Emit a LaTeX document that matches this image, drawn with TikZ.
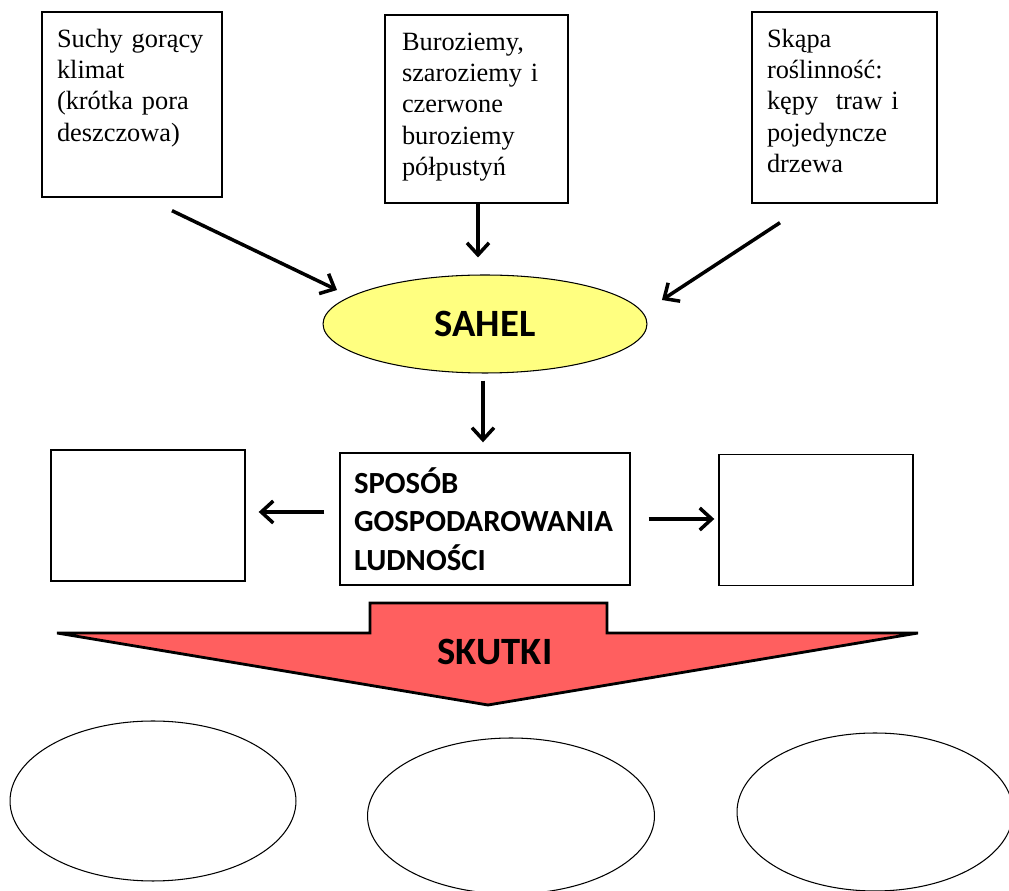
\documentclass[tikz,border=0pt]{standalone}
\usepackage{fontspec}
\setmainfont{Liberation Serif}
\newfontfamily\calibri{Carlito}
\usetikzlibrary{arrows.meta, shapes.geometric, calc}
\definecolor{piasek}{RGB}{255,255,128}
\definecolor{czerwien}{RGB}{255,95,95}
\tikzset{
  kafel/.style={draw, line width=0.8pt, align=left, inner xsep=0.34cm, inner ysep=0.3cm, text height=0.4cm,
                font=\fontsize{15}{17.9}\selectfont},
  pusty/.style={draw, line width=0.8pt, minimum width=3.88cm, minimum height=2.62cm},
  owal/.style={ellipse, draw, line width=0.6pt},
  napis/.style={font=\calibri\bfseries\fontsize{22}{26}\selectfont},
  strzalka/.style={line width=2pt, -{Straight Barb[length=0.24cm, width=0.44cm]}},
}

\begin{document}
\begin{tikzpicture}[x=0.02cm, y=-0.02cm]
        \useasboundingbox (0,0) rectangle (1009,891);

        % Nodes
        \node[kafel, inner xsep=0.3cm, text width=3.0cm, text depth=2.7cm] (klimat) at (132,104.5) {Suchy gorący\\klimat\\(krótka pora\\deszczowa)};
        \node[kafel, text width=2.98cm, text depth=2.76cm] (gleby) at (476.5,109) {Buroziemy,\\szaroziemy i\\czerwone\\buroziemy\\półpustyń};
        \node[kafel, inner xsep=0.3cm, text width=3.1cm, text depth=2.82cm] (roslinnosc) at (844.5,107.5) {Skąpa\\roślinność:\\kępy~ traw i\\pojedyncze\\drzewa};
        \node[owal, fill=piasek, minimum width=6.48cm, minimum height=1.96cm, napis] (sahel) at (485,324) {SAHEL};
        \node[draw, line width=0.8pt, align=left, inner xsep=0.28cm, text width=5.24cm, minimum height=2.64cm,
              font=\calibri\bfseries\fontsize{17.5}{22}\selectfont] (sposob) at (485,519) {SPOSÓB\\GOSPODAROWANIA\\LUDNOŚCI};
        \node[pusty] (lewy) at (148,515.5) {};
        \node[pusty] (prawy) at (816,520) {};

        % Skutki
        \draw[line width=1.6pt, fill=czerwien, line join=miter] (370,603) -- (607,603) -- (607,633) -- (918,633) -- (488,705) -- (57,633) -- (370,633) -- cycle;
        \node[napis] (skutki) at (495,652) {SKUTKI};
        \node[owal, minimum width=5.72cm, minimum height=3.2cm] (skutek1) at (153,801) {};
        \node[owal, minimum width=5.74cm, minimum height=3.12cm] (skutek2) at (511,816) {};
        \node[owal, minimum width=5.52cm, minimum height=3.16cm] (skutek3) at (875,812) {};

        % Directed edges
        \draw[strzalka] ([xshift=0.8cm, yshift=-0.26cm]klimat.south) -- ([xshift=-2.96cm, yshift=0.68cm]sahel.center);
        \draw[strzalka, shorten >=0.34cm] ([xshift=0.03cm]gleby.south) -- ([xshift=0.03cm]gleby.south |- sahel.north);
        \draw[strzalka] ([xshift=-1.29cm, yshift=-0.38cm]roslinnosc.south) -- ([xshift=3.54cm, yshift=0.48cm]sahel.center);
        \draw[strzalka, shorten <=0.14cm, shorten >=0.2cm] ([xshift=-0.04cm]sahel.south) -- ([xshift=-0.04cm]sposob.north);
        \draw[strzalka, shorten <=0.3cm, shorten >=0.26cm] ([yshift=0.14cm]sposob.west) -- ([yshift=0.14cm]sposob.west -| lewy.east);
        \draw[strzalka, shorten <=0.36cm, shorten >=0.08cm] (sposob.east) -- (sposob.east -| prawy.west);
    \end{tikzpicture}
\end{document}
